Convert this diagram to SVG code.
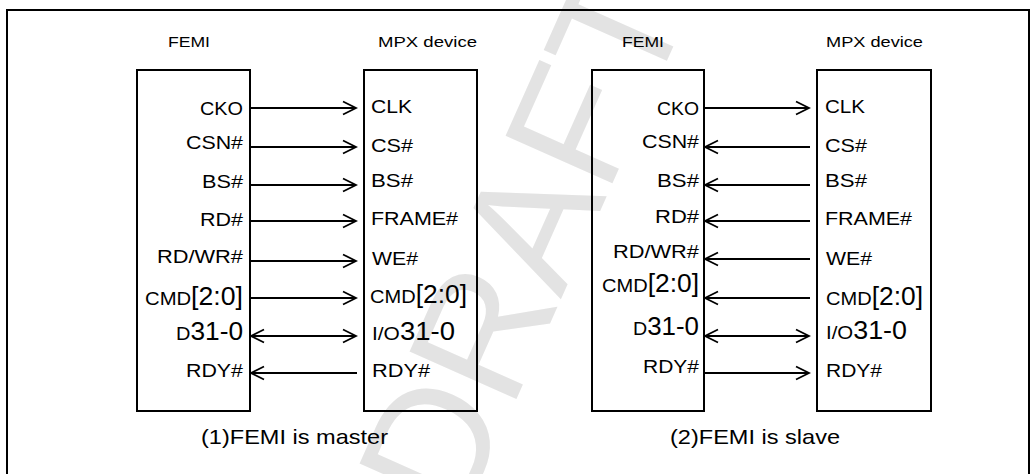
<svg xmlns="http://www.w3.org/2000/svg" width="1031" height="474" viewBox="0 0 1031 474">
<defs>
<style>
.t{font-family:"Liberation Sans",Arial,sans-serif;font-size:19px;fill:#000}
.h{font-family:"Liberation Sans",Arial,sans-serif;font-size:15px;fill:#000}
.c{font-family:"Liberation Sans",Arial,sans-serif;font-size:21px;fill:#000}
.b{font-size:25px}
.box{fill:none;stroke:#000;stroke-width:2}
.w{fill:none;stroke:#000;stroke-width:1.8}
.wm{font-family:"Liberation Sans",Arial,sans-serif;font-size:170px;fill:#e3e3e3}
</style>
<marker id="ah" markerUnits="userSpaceOnUse" markerWidth="16" markerHeight="16" viewBox="-14 -8 16 16" refX="0" refY="0" orient="auto-start-reverse">
<path d="M-13,-6.5 L0,0 L-13,6.5" fill="none" stroke="#000" stroke-width="1.8"/>
</marker>
</defs>
<rect width="1031" height="474" fill="#fff"/>
<text class="wm" x="0" y="0" transform="translate(576,265) rotate(-66)" text-anchor="middle">DRAFT</text>
<rect x="7" y="10" width="1022" height="480" class="box"/>

<g id="femi1">
<rect class="box" x="137" y="70" width="113" height="341"/>
<text class="h" x="168" y="47" textLength="42" lengthAdjust="spacingAndGlyphs">FEMI</text>
<text class="t" x="200" y="115" textLength="43" lengthAdjust="spacingAndGlyphs">CKO</text>
<text class="t" x="186" y="149" textLength="57" lengthAdjust="spacingAndGlyphs">CSN#</text>
<text class="t" x="202" y="188" textLength="41" lengthAdjust="spacingAndGlyphs">BS#</text>
<text class="t" x="200" y="226" textLength="43" lengthAdjust="spacingAndGlyphs">RD#</text>
<text class="t" x="157" y="263" textLength="86" lengthAdjust="spacingAndGlyphs">RD/WR#</text>
<text class="t" x="145" y="305" textLength="98" lengthAdjust="spacingAndGlyphs">CMD<tspan class="b">[2:0]</tspan></text>
<text class="t" x="176" y="340" textLength="67" lengthAdjust="spacingAndGlyphs">D<tspan class="b">31-0</tspan></text>
<text class="t" x="186" y="377" textLength="57" lengthAdjust="spacingAndGlyphs">RDY#</text>
</g>

<g id="mpx1">
<rect class="box" x="364" y="70" width="113" height="341"/>
<text class="h" x="378" y="47" textLength="99" lengthAdjust="spacingAndGlyphs">MPX device</text>
<text class="t" x="371" y="113" textLength="41" lengthAdjust="spacingAndGlyphs">CLK</text>
<text class="t" x="371" y="152" textLength="42" lengthAdjust="spacingAndGlyphs">CS#</text>
<text class="t" x="371" y="187" textLength="42" lengthAdjust="spacingAndGlyphs">BS#</text>
<text class="t" x="371" y="225" textLength="87" lengthAdjust="spacingAndGlyphs">FRAME#</text>
<text class="t" x="372" y="265" textLength="46" lengthAdjust="spacingAndGlyphs">WE#</text>
<text class="t" x="370" y="303" textLength="97" lengthAdjust="spacingAndGlyphs">CMD<tspan class="b">[2:0]</tspan></text>
<text class="t" x="372" y="340" textLength="83" lengthAdjust="spacingAndGlyphs">I/O<tspan class="b">31-0</tspan></text>
<text class="t" x="372" y="377" textLength="58" lengthAdjust="spacingAndGlyphs">RDY#</text>
</g>

<g id="femi2">
<rect class="box" x="592" y="70" width="112" height="341"/>
<text class="h" x="622" y="47" textLength="42" lengthAdjust="spacingAndGlyphs">FEMI</text>
<text class="t" x="657" y="115" textLength="42" lengthAdjust="spacingAndGlyphs">CKO</text>
<text class="t" x="642" y="148" textLength="57" lengthAdjust="spacingAndGlyphs">CSN#</text>
<text class="t" x="657" y="187" textLength="42" lengthAdjust="spacingAndGlyphs">BS#</text>
<text class="t" x="655" y="223" textLength="44" lengthAdjust="spacingAndGlyphs">RD#</text>
<text class="t" x="613" y="258" textLength="86" lengthAdjust="spacingAndGlyphs">RD/WR#</text>
<text class="t" x="602" y="292" textLength="97" lengthAdjust="spacingAndGlyphs">CMD<tspan class="b">[2:0]</tspan></text>
<text class="t" x="633" y="335" textLength="66" lengthAdjust="spacingAndGlyphs">D<tspan class="b">31-0</tspan></text>
<text class="t" x="643" y="373" textLength="56" lengthAdjust="spacingAndGlyphs">RDY#</text>
</g>

<g id="mpx2">
<rect class="box" x="817" y="70" width="114" height="341"/>
<text class="h" x="826" y="47" textLength="97" lengthAdjust="spacingAndGlyphs">MPX device</text>
<text class="t" x="825" y="113" textLength="40" lengthAdjust="spacingAndGlyphs">CLK</text>
<text class="t" x="825" y="152" textLength="42" lengthAdjust="spacingAndGlyphs">CS#</text>
<text class="t" x="825" y="187" textLength="42" lengthAdjust="spacingAndGlyphs">BS#</text>
<text class="t" x="825" y="225" textLength="87" lengthAdjust="spacingAndGlyphs">FRAME#</text>
<text class="t" x="826" y="265" textLength="46" lengthAdjust="spacingAndGlyphs">WE#</text>
<text class="t" x="826" y="305" textLength="97" lengthAdjust="spacingAndGlyphs">CMD<tspan class="b">[2:0]</tspan></text>
<text class="t" x="826" y="339" textLength="81" lengthAdjust="spacingAndGlyphs">I/O<tspan class="b">31-0</tspan></text>
<text class="t" x="826" y="377" textLength="56" lengthAdjust="spacingAndGlyphs">RDY#</text>
</g>

<g id="connectors">
<line class="w" x1="251" y1="108" x2="356" y2="108" marker-end="url(#ah)"/>
<line class="w" x1="251" y1="147" x2="356" y2="147" marker-end="url(#ah)"/>
<line class="w" x1="251" y1="185" x2="356" y2="185" marker-end="url(#ah)"/>
<line class="w" x1="251" y1="221" x2="356" y2="221" marker-end="url(#ah)"/>
<line class="w" x1="251" y1="261" x2="356" y2="261" marker-end="url(#ah)"/>
<line class="w" x1="251" y1="298" x2="356" y2="298" marker-end="url(#ah)"/>
<line class="w" x1="251" y1="336" x2="356" y2="336" marker-start="url(#ah)" marker-end="url(#ah)"/>
<line class="w" x1="357" y1="373" x2="251" y2="373" marker-end="url(#ah)"/>

<line class="w" x1="705" y1="108" x2="809" y2="108" marker-end="url(#ah)"/>
<line class="w" x1="810" y1="147" x2="705" y2="147" marker-end="url(#ah)"/>
<line class="w" x1="810" y1="185" x2="705" y2="185" marker-end="url(#ah)"/>
<line class="w" x1="810" y1="221" x2="705" y2="221" marker-end="url(#ah)"/>
<line class="w" x1="810" y1="259" x2="705" y2="259" marker-end="url(#ah)"/>
<line class="w" x1="810" y1="298" x2="705" y2="298" marker-end="url(#ah)"/>
<line class="w" x1="705" y1="336" x2="809" y2="336" marker-start="url(#ah)" marker-end="url(#ah)"/>
<line class="w" x1="705" y1="373" x2="809" y2="373" marker-end="url(#ah)"/>
</g>

<text class="c" x="201" y="444" textLength="187" lengthAdjust="spacingAndGlyphs">(1)FEMI is master</text>
<text class="c" x="670" y="444" textLength="170" lengthAdjust="spacingAndGlyphs">(2)FEMI is slave</text>
</svg>
